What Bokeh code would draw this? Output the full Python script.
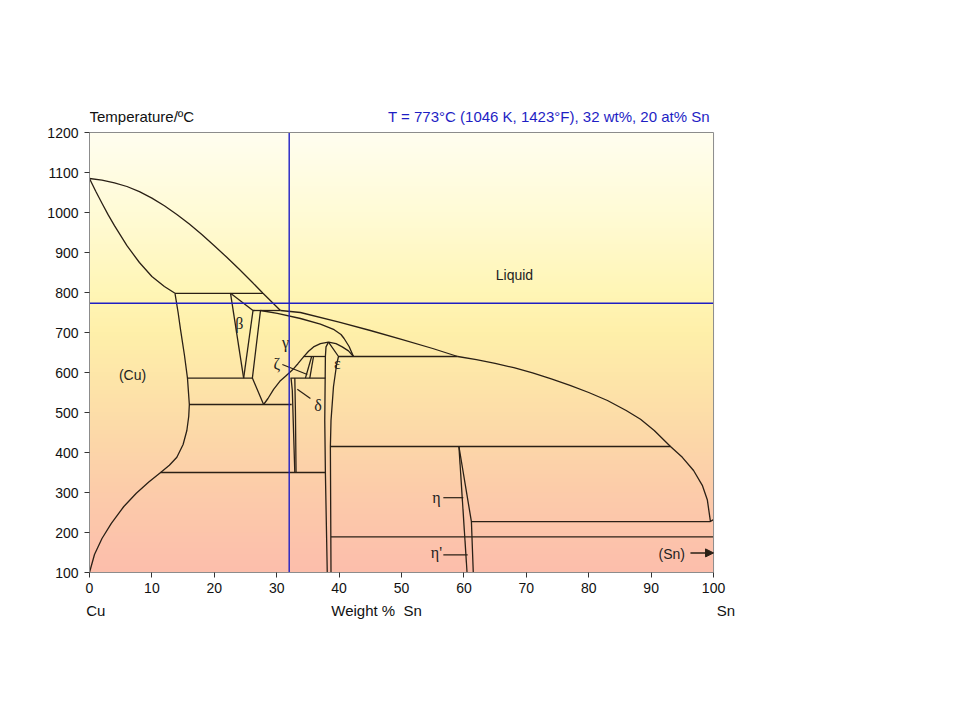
import numpy as np
from bokeh.plotting import figure
from bokeh.models import Label, Arrow, NormalHead, Range1d, FixedTicker, LinearAxis
from bokeh.embed import file_html
from bokeh.resources import INLINE

# ---------------- data (wt% Sn, temperature in deg C) ----------------
sel_wt, sel_at, sel_T = 32, 20, 773

liq_cu_wt = [0, 2, 4, 6, 8, 10, 12, 14, 16, 18, 20, 22, 24, 26, 27.8, 30.6]
liq_cu_T = [1085, 1081, 1074, 1065, 1052, 1036, 1017, 995, 971, 945, 917, 888, 858, 827, 798, 755]
liq_mid_wt = [30.6, 33.8, 40, 45, 50, 55, 59]
liq_mid_T = [755, 750, 726, 705, 683, 660, 640]
liq_sn_wt = [59, 62, 65, 68, 71, 74, 77, 80, 83, 86, 88.3, 90.5, 93.1, 95, 96.8, 98.2, 99.0, 99.5, 100]
liq_sn_T = [640, 632, 623, 612, 599, 584, 568, 550, 530, 505, 483, 455, 415, 388, 355, 318, 282, 228, 232]
sol_cu_wt = [0, 1, 2, 3, 4, 6, 8, 10, 12, 13.7]
sol_cu_T = [1085, 1053, 1023, 994, 967, 917, 875, 840, 815, 798]
cu_solvus_wt = [13.7, 14.2, 14.6, 15.2, 15.7, 16.0, 15.9, 15.6, 15.0, 14.0, 12.8, 11.4,
                9.5, 7.5, 5.5, 3.5, 2.0, 0.8, 0.0]
cu_solvus_T = [798, 750, 706, 645, 586, 520, 490, 455, 420, 388, 368, 350,
               326, 298, 265, 223, 185, 145, 100]
beta_left_wt = [22.6, 24.7]
beta_left_T = [798, 586]
beta_top_wt = [22.6, 26.2]
beta_top_T = [798, 755]
beta_right_wt = [26.2, 24.7]
beta_right_T = [755, 586]
gamma_left_wt = [27.4, 26.1, 27.9]
gamma_left_T = [755, 586, 520]
gamma_sol_wt = [27.4, 30.1, 33.8, 37.0, 39.2, 40.3, 40.8, 41.6, 42.3]
gamma_sol_T = [755, 748, 735, 721, 707, 695, 685, 665, 640]
gamma_right_wt = [27.9, 28.6, 29.5, 30.5, 31.5, 32.5, 33.4, 34.3, 35.1, 35.9, 37.0, 38.3,
                  39.5, 40.5, 41.5, 42.3]
gamma_right_T = [520, 535, 558, 578, 592, 606, 622, 639, 653, 664, 672, 676,
                 672, 664, 654, 640]
zeta_left_wt = [35.6, 34.6]
zeta_left_T = [640, 586]
zeta_right_wt = [35.9, 35.3]
zeta_right_T = [640, 586]
delta_left_wt = [32.3, 32.5, 32.9]
delta_left_T = [586, 555, 350]
delta_right_wt = [32.9, 33.0, 33.1]
delta_right_T = [586, 500, 350]
eps_left_wt = [38.3, 37.9, 37.8, 37.7, 37.8, 38.1]
eps_left_T = [676, 664, 640, 480, 350, 100]
eps_right_wt = [38.3, 39.9, 39.6, 39.1, 38.7, 38.6, 38.7]
eps_right_T = [676, 640, 620, 565, 480, 415, 100]
eta_left_wt = [59.2, 60.5]
eta_left_T = [415, 100]
eta_right_wt = [59.2, 61.2, 61.5]
eta_right_T = [415, 227, 100]

# isotherms: (temperature, wt% from, wt% to)
iso_T = [798, 755, 640, 640, 586, 586, 520, 350, 415, 227, 189]
iso_from = [13.7, 26.2, 39.9, 34.3, 15.7, 32.2, 16.0, 11.4, 38.6, 61.2, 38.7]
iso_to = [27.8, 30.6, 59.0, 37.8, 26.1, 37.8, 32.4, 37.8, 93.1, 99.5, 100]

# phase labels
lab_text = ["Liquid", "(Cu)", "\u03b2", "\u03b3", "\u03b6", "\u03b4", "\u03b5", "\u03b7", "\u03b7'", "(Sn)"]
lab_wt = [68.1, 6.9, 24.0, 31.4, 30.0, 36.6, 39.7, 55.6, 55.6, 93.3]
lab_T = [843, 593, 723, 676, 622, 518, 622, 287, 150, 147]

# leader lines (wt from, T from, wt to, T to)
lead_wt0 = [30.9, 33.3, 56.7, 56.7]
lead_T0 = [620, 558, 287, 144]
lead_wt1 = [34.9, 35.4, 59.9, 60.6]
lead_T1 = [595, 535, 287, 144]

x_ticks = list(range(0, 101, 10))
y_ticks = list(range(100, 1201, 100))
caption_pos = [1, 46, 102]
caption_text = ["Cu", "Weight %\u00a0 Sn", "Sn"]

# ---------------- figure ----------------
LINE = "#2a2016"
BLUE = "#1e1ec4"
FONT = "Liberation Sans"

p = figure(width=944, height=700, x_range=Range1d(0, 104), y_range=Range1d(100, 1280),
           output_backend="svg", toolbar_location=None,
           min_border_left=89, min_border_right=206, min_border_top=100, min_border_bottom=128)
p.xgrid.visible = False
p.ygrid.visible = False
p.outline_line_color = None
p.background_fill_color = "white"
p.border_fill_color = "white"

# background gradient inside the plot box
stops_T = [100, 300, 500, 700, 800, 1000, 1200]
stops_rgb = np.array([[252, 190, 172], [252, 204, 170], [253, 222, 168], [255, 240, 170],
                      [255, 246, 182], [255, 251, 214], [255, 254, 240]], dtype=float)
ny = 220
ys = np.linspace(100, 1200, ny)
img = np.zeros((ny, 1), dtype=np.uint32)
view = img.view(dtype=np.uint8).reshape((ny, 1, 4))
for c in range(3):
    view[:, 0, c] = np.interp(ys, stops_T, stops_rgb[:, c]).astype(np.uint8)
view[:, 0, 3] = 255
p.image_rgba(image=[img], x=x_ticks[0], y=y_ticks[0],
             dw=x_ticks[-1] - x_ticks[0], dh=y_ticks[-1] - y_ticks[0])

curves = [
    (liq_cu_wt, liq_cu_T), (liq_mid_wt, liq_mid_T), (liq_sn_wt, liq_sn_T),
    (sol_cu_wt, sol_cu_T), (cu_solvus_wt, cu_solvus_T),
    (beta_left_wt, beta_left_T), (beta_top_wt, beta_top_T), (beta_right_wt, beta_right_T),
    (gamma_left_wt, gamma_left_T), (gamma_sol_wt, gamma_sol_T), (gamma_right_wt, gamma_right_T),
    (zeta_left_wt, zeta_left_T), (zeta_right_wt, zeta_right_T),
    (delta_left_wt, delta_left_T), (delta_right_wt, delta_right_T),
    (eps_left_wt, eps_left_T), (eps_right_wt, eps_right_T),
    (eta_left_wt, eta_left_T), (eta_right_wt, eta_right_T),
]
for xw, yt in curves:
    p.line(xw, yt, line_color=LINE, line_width=1.3, line_join="round")

for T, a, b in zip(iso_T, iso_from, iso_to):
    p.line([a, b], [T, T], line_color=LINE, line_width=1.3)

for a, b, c, d in zip(lead_wt0, lead_T0, lead_wt1, lead_T1):
    p.line([a, c], [b, d], line_color=LINE, line_width=1.2)

p.add_layout(Arrow(end=NormalHead(size=8, fill_color=LINE, line_color=LINE),
                   x_start=96.3, y_start=149, x_end=100, y_end=149,
                   line_color=LINE, line_width=1.5))

# selection cross-hair
p.line([sel_wt, sel_wt], [y_ticks[0], y_ticks[-1]], line_color=BLUE, line_width=1.4)
p.line([x_ticks[0], x_ticks[-1]], [sel_T, sel_T], line_color=BLUE, line_width=1.4)

# plot box
p.quad(left=x_ticks[0], right=x_ticks[-1], bottom=y_ticks[0], top=y_ticks[-1],
       fill_color=None, line_color="#8c8c8c", line_width=1)

for txt, xw, yt in zip(lab_text, lab_wt, lab_T):
    greek = txt not in ("Liquid", "(Cu)", "(Sn)")
    p.add_layout(Label(x=xw, y=yt, text=txt, text_align="center", text_baseline="middle",
                       text_font="Liberation Serif" if greek else FONT,
                       text_font_size="16px" if greek else "14px", text_color="#222222"))

# axes
for ax in (p.xaxis[0], p.yaxis[0]):
    ax.axis_line_color = "#8c8c8c"
    ax.major_tick_line_color = "#333333"
    ax.major_tick_out = 5
    ax.major_tick_in = 0
    ax.minor_tick_line_color = None
    ax.major_label_text_font = FONT
    ax.major_label_text_font_size = "14px"
    ax.major_label_text_color = "#111111"
p.xaxis[0].ticker = FixedTicker(ticks=x_ticks)
p.yaxis[0].ticker = FixedTicker(ticks=y_ticks)
p.xaxis[0].bounds = (x_ticks[0], x_ticks[-1])
p.yaxis[0].bounds = (y_ticks[0], y_ticks[-1])
p.xaxis[0].major_label_standoff = 5
p.yaxis[0].major_label_standoff = 6

cap = LinearAxis(ticker=FixedTicker(ticks=caption_pos),
                 major_label_overrides={k: t for k, t in zip(caption_pos, caption_text)})
cap.axis_line_color = None
cap.major_tick_line_color = None
cap.minor_tick_line_color = None
cap.major_tick_out = 0
cap.major_tick_in = 0
cap.major_label_standoff = 6
cap.major_label_text_font = FONT
cap.major_label_text_font_size = "15px"
cap.major_label_text_color = "#111111"
p.add_layout(cap, "below")

# titles
tF = (sel_T * 9 / 5) + 32
tK = sel_T + 273
p.add_layout(Label(x=0, y=1240, text="Temperature/\u00baC", text_align="left", text_baseline="middle",
                   text_font=FONT, text_font_size="15px", text_color="#111111"))
p.add_layout(Label(x=99.4, y=1240,
                   text=f"T = {sel_T}\u00b0C ({tK:.0f} K, {tF:.0f}\u00b0F), {sel_wt} wt%, {sel_at} at% Sn",
                   text_align="right", text_baseline="middle",
                   text_font=FONT, text_font_size="15px", text_color=BLUE))

open("out.html", "w").write(file_html(p, INLINE))
